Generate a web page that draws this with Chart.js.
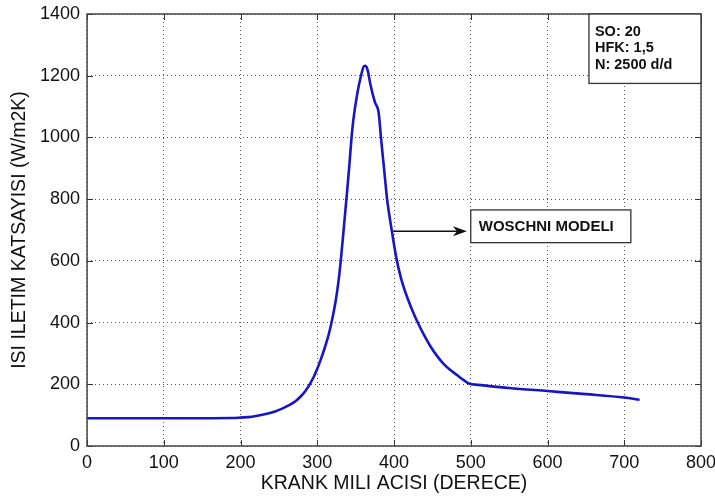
<!DOCTYPE html>
<html>
<head>
<meta charset="utf-8">
<script src="https://cdn.jsdelivr.net/npm/chart.js@4"></script>
<style>
  html, body { margin: 0; padding: 0; background: #fff; }
  #wrap { width: 715px; height: 498px; }
</style>
</head>
<body>
<div id="wrap"><canvas id="woschni" width="715" height="498"></canvas></div>
<script>
// ======================
// DATA
// ======================
const crankAngle = [0, 100, 150, 190, 200, 215, 230, 245, 255, 264, 272, 279, 285, 290, 295, 300, 305, 310, 315, 319, 324, 328, 331, 334, 338, 341.5, 344.7, 347, 352, 357, 361, 363, 366, 369, 375, 380, 383, 387, 391, 397, 403, 409, 416, 423, 430, 439, 447, 456, 464, 473, 482, 490, 497, 510, 550, 600, 650, 700, 720];
const heatCoeff  = [90, 90, 90, 90.5, 92, 95, 102, 112, 122, 133, 146, 162, 180, 199, 222, 250, 283, 320, 362, 405, 470, 540, 610, 690, 800, 900, 1000, 1056, 1140, 1200, 1231, 1232, 1215, 1175, 1115, 1080, 1000, 900, 800, 700, 610, 545, 490, 445, 405, 360, 325, 292, 268, 247, 230, 215, 203, 198, 188, 178, 168, 157, 150];

const xTicks = [0, 100, 200, 300, 400, 500, 600, 700, 800];
const yTicks = [0, 200, 400, 600, 800, 1000, 1200, 1400];

const infoLines = ["SO: 20", "HFK: 1,5", "N: 2500 d/d"];
const seriesLabel = "WOSCHNI MODELI";

const points = crankAngle.map((a, i) => ({ x: a, y: heatCoeff[i] }));

const FONT = "'Liberation Sans', Arial, sans-serif";

// ======================
// FRAME + LABELS (matlab look)
// ======================
const matlabBox = {
  id: "matlabBox",
  afterDraw(chart) {
    const { ctx, chartArea: a, scales } = chart;
    const xs = scales.x, ys = scales.y;
    ctx.save();
    ctx.setLineDash([]);

    // inward tick marks on all sides
    ctx.strokeStyle = "#333";
    ctx.lineWidth = 1;
    xs.ticks.forEach(t => {
      const px = Math.round(xs.getPixelForValue(t.value)) + 0.5;
      ctx.beginPath();
      ctx.moveTo(px, a.bottom); ctx.lineTo(px, a.bottom - 6);
      ctx.moveTo(px, a.top); ctx.lineTo(px, a.top + 6);
      ctx.stroke();
    });
    ys.ticks.forEach(t => {
      const py = Math.round(ys.getPixelForValue(t.value)) + 0.5;
      ctx.beginPath();
      ctx.moveTo(a.left, py); ctx.lineTo(a.left + 6, py);
      ctx.moveTo(a.right, py); ctx.lineTo(a.right - 6, py);
      ctx.stroke();
    });

    // frame
    ctx.strokeStyle = "#444";
    ctx.lineWidth = 1.5;
    ctx.strokeRect(a.left, a.top, a.right - a.left, a.bottom - a.top);

    // info box top-right
    const bx = xs.getPixelForValue(654), by = a.top;
    const bw = a.right - bx, bh = ys.getPixelForValue(1175) - by;
    ctx.fillStyle = "#fff";
    ctx.fillRect(bx, by, bw, bh);
    ctx.strokeStyle = "#333";
    ctx.lineWidth = 1.3;
    ctx.strokeRect(bx, by, bw, bh);
    ctx.fillStyle = "#111";
    ctx.font = "bold 14.5px " + FONT;
    ctx.textBaseline = "middle";
    ctx.textAlign = "left";
    infoLines.forEach((s, i) => ctx.fillText(s, bx + 6, by + 18 + i * 16.3));

    // arrow to the curve
    const ax0 = xs.getPixelForValue(399), ax1 = xs.getPixelForValue(495);
    const ay = ys.getPixelForValue(696);
    ctx.strokeStyle = "#111";
    ctx.lineWidth = 1.3;
    ctx.beginPath();
    ctx.moveTo(ax0, ay); ctx.lineTo(ax1 - 8, ay);
    ctx.stroke();
    ctx.fillStyle = "#111";
    ctx.beginPath();
    ctx.moveTo(ax1, ay); ctx.lineTo(ax1 - 14, ay - 5); ctx.lineTo(ax1 - 10, ay); ctx.lineTo(ax1 - 14, ay + 5);
    ctx.closePath();
    ctx.fill();

    // label box
    const lx = xs.getPixelForValue(500), lx2 = xs.getPixelForValue(708.6);
    const ly = ys.getPixelForValue(765), ly2 = ys.getPixelForValue(659);
    ctx.fillStyle = "#fff";
    ctx.fillRect(lx, ly, lx2 - lx, ly2 - ly);
    ctx.strokeStyle = "#333";
    ctx.strokeRect(lx, ly, lx2 - lx, ly2 - ly);
    ctx.fillStyle = "#111";
    ctx.font = "bold 15px " + FONT;
    ctx.fillText(seriesLabel, lx + 8, (ly + ly2) / 2 + 1);

    ctx.restore();
  }
};

// ======================
// CHART
// ======================
new Chart(document.getElementById("woschni"), {
  type: "line",
  data: {
    datasets: [{
      label: seriesLabel,
      data: points,
      borderColor: "#1616c4",
      borderWidth: 2.6,
      pointRadius: 0,
      cubicInterpolationMode: "monotone",
      fill: false
    }]
  },
  options: {
    responsive: false,
    animation: false,
    layout: { padding: { top: 14, right: 14, left: 0, bottom: 0 } },
    plugins: { legend: { display: false }, tooltip: { enabled: false } },
    scales: {
      x: {
        type: "linear",
        min: 0, max: 800,
        afterBuildTicks: s => { s.ticks = xTicks.map(v => ({ value: v })); },
        afterFit: s => { s.height = 52; s.paddingLeft = 0; s.paddingRight = 0; },
        ticks: { padding: 6, color: "#111", font: { size: 18, family: FONT }, maxRotation: 0, callback: v => String(v) },
        grid: { color: "#555", lineWidth: 1, drawTicks: false },
        border: { display: false, dash: [1, 3] },
        title: {
          display: true,
          text: "KRANK MILI ACISI (DERECE)",
          color: "#111",
          font: { size: 19.5, family: FONT },
          padding: { top: 0, bottom: 3 }
        }
      },
      y: {
        min: 0, max: 1400,
        afterBuildTicks: s => { s.ticks = yTicks.map(v => ({ value: v })); },
        afterFit: s => { s.width = 87; s.paddingTop = 0; s.paddingBottom = 0; },
        ticks: { padding: 7, color: "#111", font: { size: 18, family: FONT }, callback: v => String(v) },
        grid: { color: "#555", lineWidth: 1, drawTicks: false },
        border: { display: false, dash: [1, 3] },
        title: {
          display: true,
          text: "ISI ILETIM KATSAYISI (W/m2K)",
          color: "#111",
          font: { size: 19.5, family: FONT },
          padding: { top: 8, bottom: 0 }
        }
      }
    }
  },
  plugins: [matlabBox]
});
</script>
</body>
</html>
